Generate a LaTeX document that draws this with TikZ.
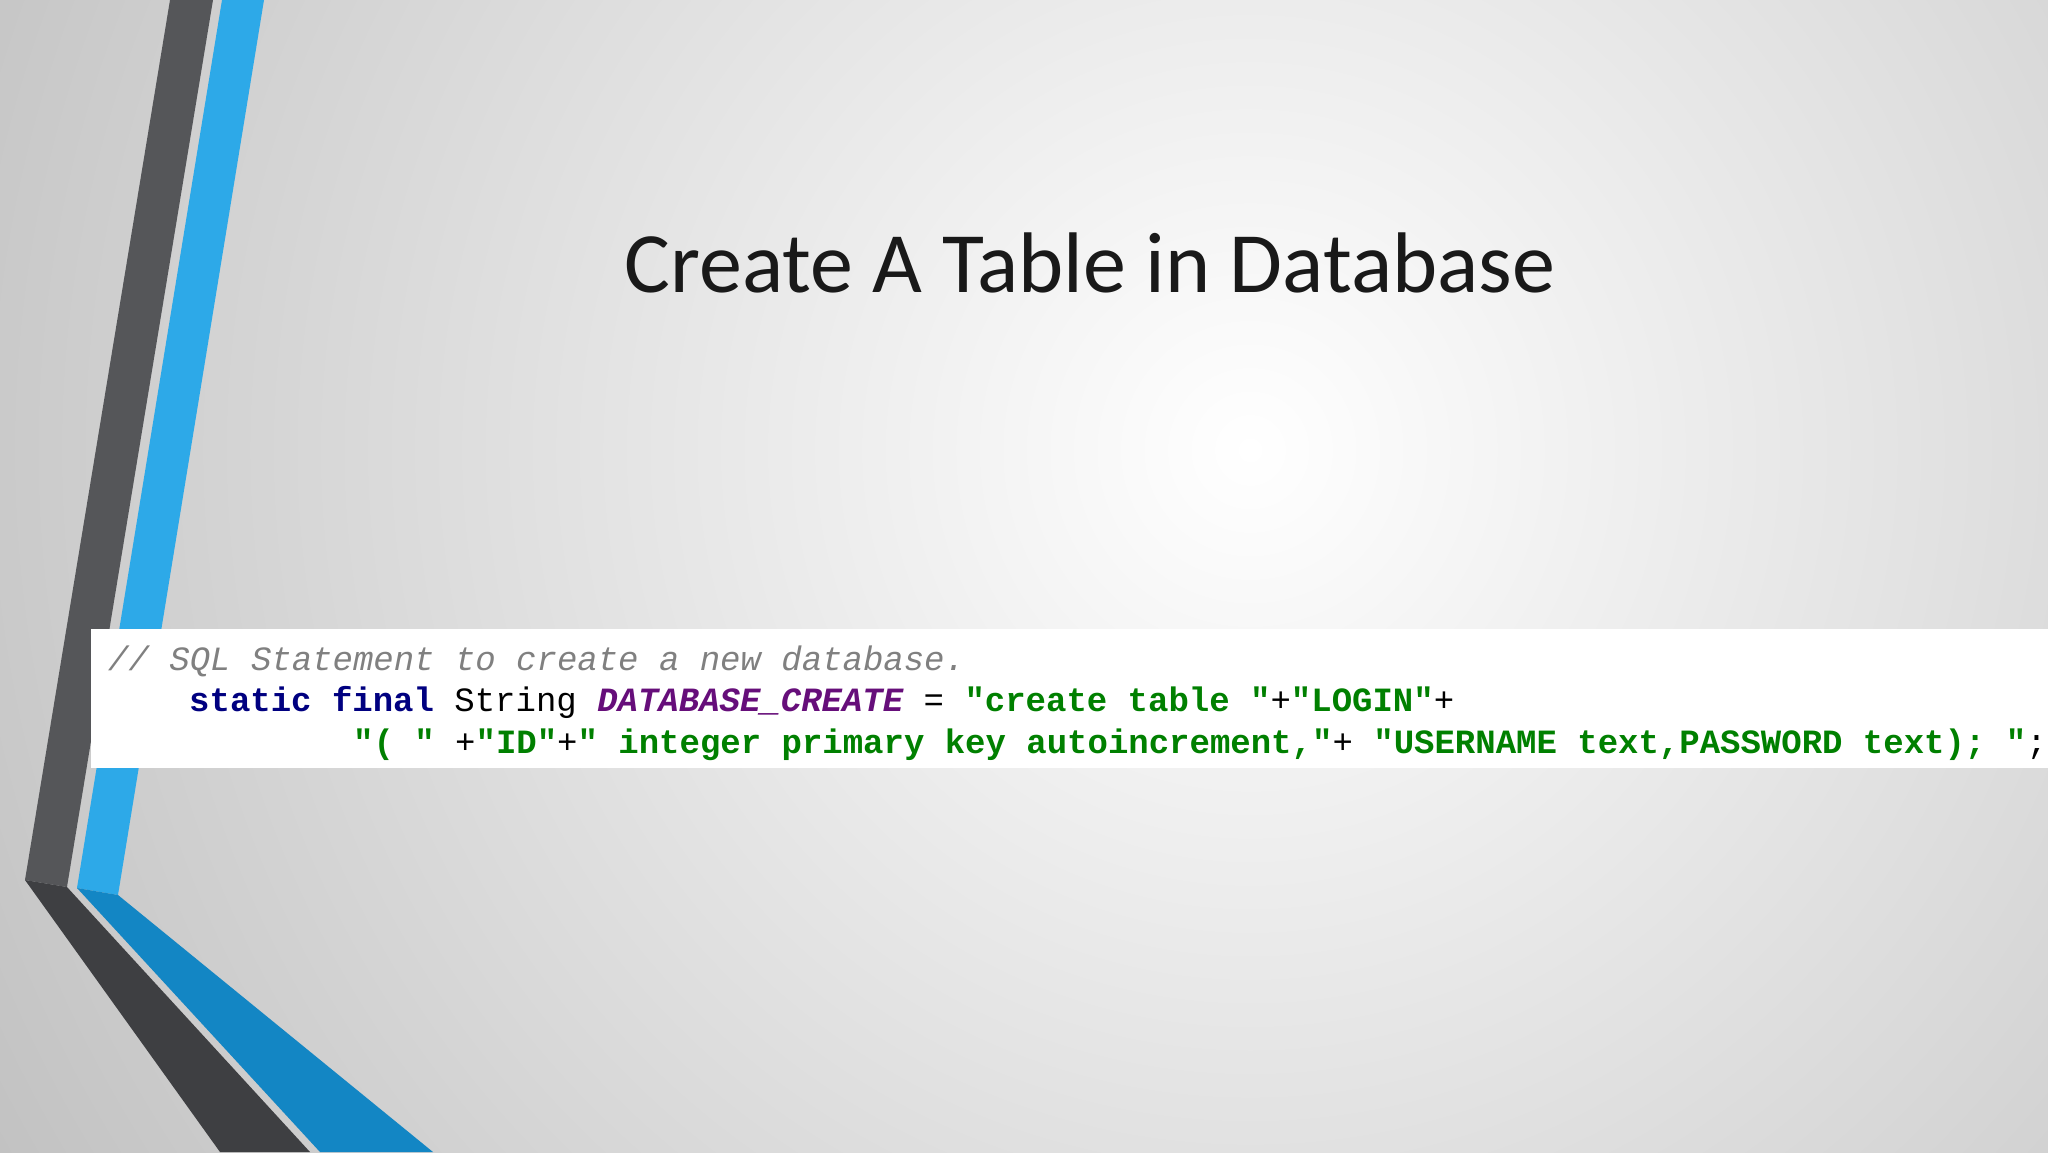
\documentclass[tikz,border=0pt]{standalone}
\usepackage{fontspec}
\setmainfont{Carlito}
\setmonofont{Liberation Mono}
\definecolor{kw}{HTML}{000080}
\definecolor{pur}{HTML}{660E7A}
\definecolor{grn}{HTML}{008000}
\definecolor{cmt}{HTML}{808080}
\definecolor{dk}{HTML}{555659}
\definecolor{dkb}{HTML}{3E3F42}
\definecolor{bl}{HTML}{2DA9E8}
\definecolor{blb}{HTML}{1386C4}
\tikzset{code/.style={anchor=base west,inner sep=0pt,font=\fontsize{34}{40}\selectfont\ttfamily}}
\begin{document}
\begin{tikzpicture}[x=1pt,y=-1pt]
\useasboundingbox (0,0) rectangle (2048,1152);
\begin{scope}
\clip (0,0) rectangle (2048,1152);
\fill[gray!45] (0,0) rectangle (2048,1152);
\shade[inner color=white,outer color=gray!50] (-250,-1050) rectangle (2750,1950);
% stripes
\fill[dk] (170,0) -- (213,0) -- (67,887) -- (25,880) -- cycle;
\fill[dkb] (25,880) -- (67,887) -- (310,1152) -- (220,1152) -- cycle;
\fill[bl] (222,0) -- (264,0) -- (118,895) -- (77,888) -- cycle;
\fill[blb] (77,888) -- (118,895) -- (433,1152) -- (320,1152) -- cycle;
\fill[white] (91,629) rectangle (2048,768);
\end{scope}
\node[anchor=base,inner sep=0pt,text=black!90,font=\fontsize{86}{100}\selectfont] (title) at (1090,292) {Create A Table in Database};
\node[code,text=cmt] (l1) at (108,670) {\itshape // SQL Statement to create a new database.};
\node[code] (l2) at (189,711) {\textbf{\color{kw}static final} String \textbf{\itshape\color{pur}DATABASE\_CREATE} = \textbf{\color{grn}"create table "}+\textbf{\color{grn}"LOGIN"}+};
\begin{scope}
\clip (0,0) rectangle (2048,1152);
\node[code] (l3) at (353,753) {\textbf{\color{grn}"( "} +\textbf{\color{grn}"ID"}+\textbf{\color{grn}" integer primary key autoincrement,"}+ \textbf{\color{grn}"USERNAME text,PASSWORD text); "};};
\end{scope}
\end{tikzpicture}
\end{document}
